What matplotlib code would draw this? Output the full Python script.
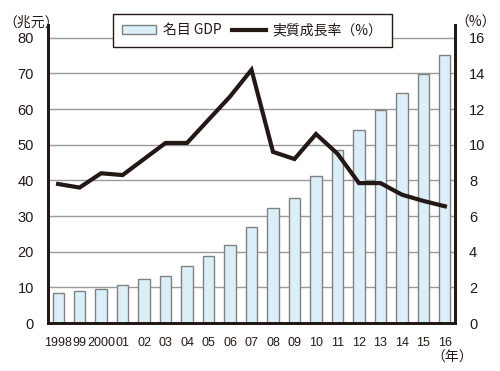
import matplotlib.pyplot as plt
import numpy as np

plt.rcParams['font.family'] = ['Liberation Sans', 'DejaVu Sans', 'Noto Sans CJK JP']

years = ['1998', '99', '2000', '01', '02', '03', '04', '05', '06', '07',
         '08', '09', '10', '11', '12', '13', '14', '15', '16']
gdp = [8.4, 8.9, 9.7, 10.8, 12.3, 13.2, 15.9, 18.8, 21.8, 27.0,
       32.4, 35.0, 41.1, 48.4, 54.2, 59.8, 64.5, 69.9, 75.2]
growth = [7.8, 7.6, 8.4, 8.3, 9.2, 10.1, 10.1, 11.4, 12.7, 14.2,
          9.6, 9.2, 10.6, 9.5, 7.85, 7.85, 7.2, 6.85, 6.55]

cjk = ['Noto Sans CJK JP', 'DejaVu Sans']

fig = plt.figure(figsize=(5.0, 3.71), dpi=100)
ax = fig.add_axes([0.096, 0.129, 0.814, 0.804])
ax2 = ax.twinx()

x = np.arange(len(years))
ax.bar(x, gdp, width=0.52, color='#dbeff9', edgecolor='#808080', linewidth=1.0,
       label='名目 GDP', zorder=2)
ax2.plot(x, growth, color='#231815', linewidth=3, label='実質成長率（%）',
         solid_joinstyle='miter', zorder=3)

ax.set_xlim(-0.47, 18.47)
ax.set_ylim(0, 83.6)
ax2.set_ylim(0, 16.72)
ax.set_yticks(range(0, 81, 10))
ax2.set_yticks(range(0, 17, 2))
ax.set_xticks(x)
ax.set_xticklabels(years)

for v in range(10, 81, 10):
    ax.axhline(v, color='#9a9a9a', linewidth=1.0, zorder=1)

for a in (ax, ax2):
    a.spines['top'].set_visible(False)
    a.spines['left'].set_linewidth(2)
    a.spines['right'].set_linewidth(2)
    a.spines['bottom'].set_linewidth(2)
    for s in ('left', 'right', 'bottom'):
        a.spines[s].set_color('#231815')
    a.tick_params(length=0, labelsize=10.5, colors='#231815')
ax.tick_params(axis='y', pad=10)
ax2.tick_params(axis='y', pad=10)
ax.tick_params(axis='x', pad=10, labelsize=9)

ax.set_zorder(ax2.get_zorder() - 1)
ax2.patch.set_visible(False)

fig.text(0.006, 0.94, '（兆元）', fontsize=10, family=cjk, ha='left', va='center',
         color='#231815')
fig.text(0.952, 0.94, '（%）', fontsize=10, family=cjk, ha='center', va='center',
         color='#231815')
fig.text(0.905, 0.035, '（年）', fontsize=10, family=cjk, ha='center', va='center',
         color='#231815')

h1, l1 = ax.get_legend_handles_labels()
h2, l2 = ax2.get_legend_handles_labels()
leg = fig.legend(h1 + h2, l1 + l2, loc='center', bbox_to_anchor=(0.505, 0.918),
                 ncol=2, frameon=True, fancybox=False, prop={'family': cjk, 'size': 10},
                 handlelength=2.4, handleheight=0.7, columnspacing=0.8,
                 borderpad=0.7, handletextpad=0.5)
leg.get_frame().set_edgecolor('#231815')
leg.get_frame().set_linewidth(1.0)
leg.get_frame().set_alpha(1)
for t in leg.get_texts():
    t.set_color('#231815')

fig.savefig('out.png', dpi=100)
